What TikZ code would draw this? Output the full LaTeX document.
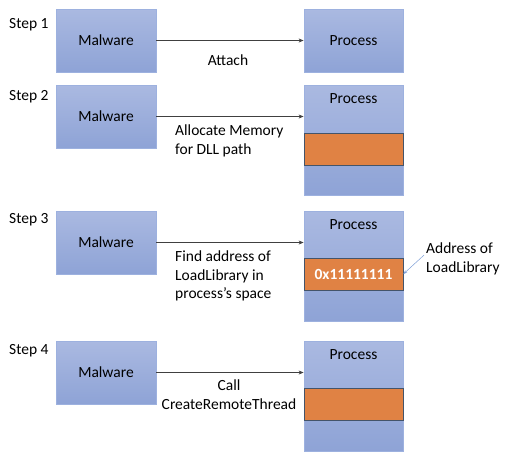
\documentclass[tikz,border=0pt]{standalone}
\usepackage{fontspec}
\setmainfont{Carlito}
\usetikzlibrary{arrows.meta,positioning}
\tikzset {>=Stealth}

\definecolor{boxtop}{HTML}{AAB9E1}
\definecolor{boxbot}{HTML}{8EA3D6}
\definecolor{boxedge}{HTML}{9DB1DF}
\definecolor{memfill}{HTML}{E08244}
\definecolor{memedge}{HTML}{44546A}
\definecolor{addrline}{HTML}{7F9FD6}

\tikzset{
  malbox/.style={draw=boxedge,line width=0.8pt,top color=boxtop,bottom color=boxbot,
    minimum width=100pt,minimum height=63pt,inner sep=0pt},
  procbox/.style={malbox,minimum width=99pt},
  membox/.style={draw=memedge,line width=0.8pt,fill=memfill,text=white,
    minimum width=99pt,minimum height=32pt,inner sep=0pt},
  call/.style={->,>={Stealth[length=5pt,width=4pt]},draw=black!75,line width=0.6pt},
}

\begin{document}
\begin{tikzpicture}[x=1pt,y=-1pt,font=\fontsize{15.5}{18.5}\selectfont]
\useasboundingbox (0,0) rectangle (506,469);

% Step labels
\node[anchor=base west,inner sep=0pt] (step1) at (9,28) {Step 1};
\node[anchor=base west,inner sep=0pt] (step2) at (9,100) {Step 2};
\node[anchor=base west,inner sep=0pt] (step3) at (9,223) {Step 3};
\node[anchor=base west,inner sep=0pt] (step4) at (9,354) {Step 4};

% Step 1: attach
\node[malbox] (mal1) at (106,40.5) {Malware};
\node[procbox] (proc1) at (353.5,40.5) {Process};
\draw[call] (mal1) -- (proc1);
\node[anchor=base,inner sep=0pt] (lab1) at (228,65) {Attach};

% Step 2: allocate memory
\node[malbox] (mal2) at (106,116.5) {Malware};
\node[procbox,minimum height=110pt] (proc2) at (353.5,140) {};
\node[anchor=base,inner sep=0pt] (ptitle2) at (353.5,103) {Process};
\node[membox] (mem2) at (353.5,149) {};
\draw[call] (mal2.east) -- (mal2.east -| proc2.west);
\node[anchor=north west,align=left,inner sep=0pt] (lab2) at (175,125)
  {Allocate Memory\\for DLL path};

% Step 3: find LoadLibrary
\node[malbox] (mal3) at (106,242.5) {Malware};
\node[procbox,minimum height=110pt] (proc3) at (353.5,266) {};
\node[anchor=base,inner sep=0pt] (ptitle3) at (353.5,229) {Process};
\node[membox,font=\fontsize{15.5}{18.5}\selectfont\bfseries] (mem3) at (353.5,274) {0x11111111};
\draw[call] (mal3.east) -- (mal3.east -| proc3.west);
\node[anchor=north west,align=left,inner sep=0pt] (lab3) at (175,251)
  {Find address of\\LoadLibrary in\\process’s space};
\node[anchor=north west,align=left,inner sep=0pt] (addr) at (426,243)
  {Address of\\LoadLibrary};
\draw[->,>={Stealth[length=4pt,width=3pt]},draw=addrline,line width=0.5pt]
  ([xshift=-2pt,yshift=4pt]addr.west) -- (mem3.east);

% Step 4: remote thread
\node[malbox] (mal4) at (106,372.5) {Malware};
\node[procbox,minimum height=110pt] (proc4) at (353.5,396) {};
\node[anchor=base,inner sep=0pt] (ptitle4) at (353.5,359) {Process};
\node[membox] (mem4) at (353.5,404) {};
\draw[call] (mal4.east) -- (mal4.east -| proc4.west);
\node[anchor=north,align=center,inner sep=0pt] (lab4) at (229,380)
  {Call\\CreateRemoteThread};

\end{tikzpicture}
\end{document}
